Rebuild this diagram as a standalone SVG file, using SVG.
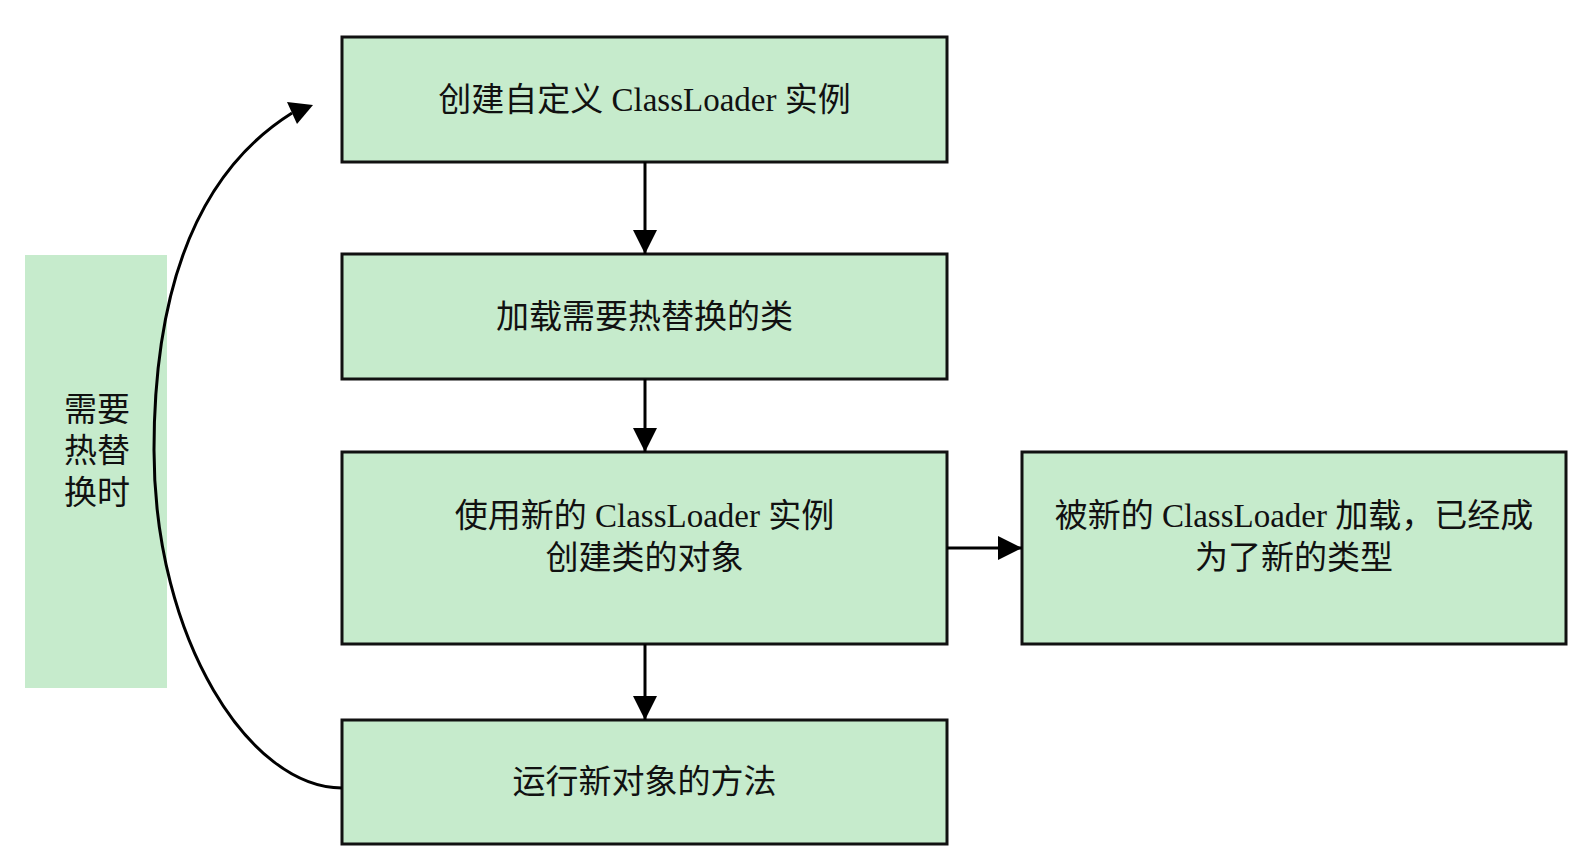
<svg xmlns="http://www.w3.org/2000/svg" width="1587" height="868" viewBox="0 0 1587 868">
<defs>
<style>
.box{fill:#c6ebcc;stroke:#111;stroke-width:3}
.lbl{fill:#c6ebcc;stroke:none}
.t{font-family:"Liberation Serif","Noto Sans CJK SC",serif;font-size:33px;fill:#111;text-anchor:middle;dominant-baseline:central}
.c{fill:none;stroke:#000;stroke-width:3}
</style>
<marker id="ah" markerUnits="userSpaceOnUse" markerWidth="24" markerHeight="24" refX="24" refY="12" orient="auto">
<path d="M0,0 L24,12 L0,24 z" fill="#000"/>
</marker>
</defs>
<rect width="1587" height="868" fill="#fff"/>
<g id="label-hot">
<rect class="lbl" x="25" y="255" width="142" height="433"/>
<text class="t" x="97" y="410">需要</text>
<text class="t" x="97" y="451">热替</text>
<text class="t" x="97" y="493">换时</text>
</g>
<g id="node1">
<rect class="box" x="342" y="37" width="605" height="125"/>
<text class="t" x="644.5" y="100">创建自定义 ClassLoader 实例</text>
</g>
<g id="node2">
<rect class="box" x="342" y="254" width="605" height="125"/>
<text class="t" x="644.5" y="317">加载需要热替换的类</text>
</g>
<g id="node3">
<rect class="box" x="342" y="452" width="605" height="192"/>
<text class="t" x="644.5" y="516">使用新的 ClassLoader 实例</text>
<text class="t" x="644.5" y="558">创建类的对象</text>
</g>
<g id="node4">
<rect class="box" x="342" y="720" width="605" height="124"/>
<text class="t" x="644.5" y="782">运行新对象的方法</text>
</g>
<g id="node5">
<rect class="box" x="1022" y="452" width="544" height="192"/>
<text class="t" x="1294" y="516">被新的 ClassLoader 加载，已经成</text>
<text class="t" x="1294" y="558">为了新的类型</text>
</g>
<g id="connectors">
<line class="c" x1="645" y1="162" x2="645" y2="254" marker-end="url(#ah)"/>
<line class="c" x1="645" y1="379" x2="645" y2="452" marker-end="url(#ah)"/>
<line class="c" x1="645" y1="644" x2="645" y2="720" marker-end="url(#ah)"/>
<line class="c" x1="947" y1="548" x2="1022" y2="548" marker-end="url(#ah)"/>
<path class="c" d="M342,788 C250,788 154,640 154,450 C154,285 198,172 292,113"/>
<polygon points="313,105 287,102 297,124" fill="#000"/>
</g>
</svg>
